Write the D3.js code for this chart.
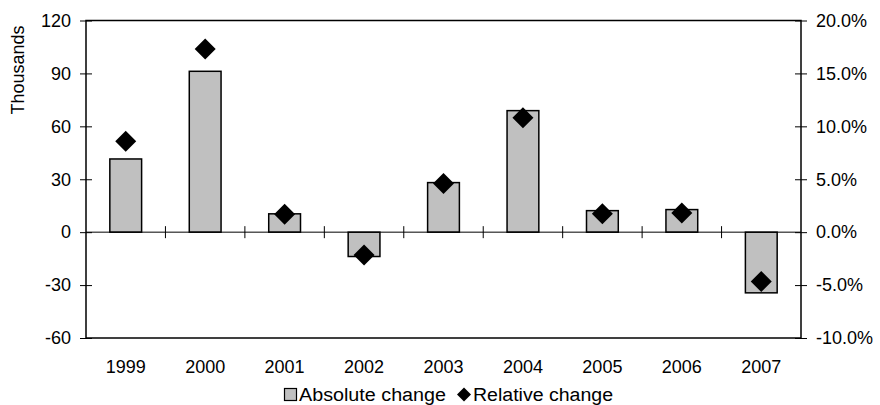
<!DOCTYPE html>
<html>
<head>
<meta charset="utf-8">
<script src="https://cdn.jsdelivr.net/npm/d3@7"></script>
<style>
  body { margin: 0; background: #fff; }
  text { font-family: "Liberation Sans", Arial, sans-serif; }
</style>
</head>
<body>
<div class="chart"></div>
<script>
const years = ["1999", "2000", "2001", "2002", "2003", "2004", "2005", "2006", "2007"];
const absolute_change = [41.5, 91.2, 10.4, -13.8, 28.1, 68.9, 12.2, 12.8, -34.4];
const relative_change = [8.6, 17.3, 1.7, -2.15, 4.6, 10.8, 1.73, 1.8, -4.67];
const left_ticks = [-60, -30, 0, 30, 60, 90, 120];
const right_ticks = [-10, -5, 0, 5, 10, 15, 20];

const width = 880;
const height = 405;
const m = { left: 86, right: 79, top: 20.5, bottom: 67 };
const fs = "18px";
const svg = d3.select(".chart").append("svg").attr("width", width).attr("height", height);

const x_scale = d3.scaleBand().domain(years).range([m.left, width - m.right]);
const y_scale = d3.scaleLinear().domain([-60, 120]).range([height - m.bottom, m.top]);
const y2_scale = d3.scaleLinear().domain([-10, 20]).range([height - m.bottom, m.top]);

// box
svg.append("rect")
    .attr("x", m.left).attr("y", m.top)
    .attr("width", width - m.left - m.right).attr("height", height - m.top - m.bottom)
    .attr("fill", "none").attr("stroke", "#000").attr("stroke-width", 1.5);

// left axis
const left_axis = svg.append("g").attr("transform", "translate(" + m.left + ",0)")
    .call(d3.axisLeft(y_scale).tickValues(left_ticks).tickSizeInner(6).tickSizeOuter(0).tickPadding(9)
        .tickFormat(d => String(d)));
left_axis.select(".domain").remove();
left_axis.selectAll(".tick line").attr("x2", 6).attr("x1", -6).attr("stroke-width", 1);
left_axis.selectAll("text").attr("font-size", fs).attr("fill", "#000");

// right axis
const right_axis = svg.append("g").attr("transform", "translate(" + (width - m.right) + ",0)")
    .call(d3.axisRight(y2_scale).tickValues(right_ticks).tickSizeInner(6).tickSizeOuter(0).tickPadding(9)
        .tickFormat(d => d.toFixed(1) + "%"));
right_axis.select(".domain").remove();
right_axis.selectAll(".tick line").attr("x1", -6).attr("x2", 6).attr("stroke-width", 1);
right_axis.selectAll("text").attr("font-size", fs).attr("fill", "#000");

// bars
svg.selectAll("rect.bar")
    .data(years)
    .join("rect")
    .attr("class", "bar")
    .attr("x", d => x_scale(d) + x_scale.bandwidth() * 0.3)
    .attr("width", x_scale.bandwidth() * 0.4)
    .attr("y", (d, i) => y_scale(Math.max(0, absolute_change[i])))
    .attr("height", (d, i) => Math.abs(y_scale(absolute_change[i]) - y_scale(0)))
    .attr("fill", "#c0c0c0")
    .attr("stroke", "#000")
    .attr("stroke-width", 1.5);

// zero line with category ticks
const zero_axis = svg.append("g").attr("transform", "translate(0," + y_scale(0) + ")");
zero_axis.append("line")
    .attr("x1", m.left).attr("x2", width - m.right)
    .attr("stroke", "#000").attr("stroke-width", 1);
zero_axis.selectAll("line.cat")
    .data(years.slice(1))
    .join("line")
    .attr("class", "cat")
    .attr("x1", d => x_scale(d)).attr("x2", d => x_scale(d))
    .attr("y1", -6).attr("y2", 6)
    .attr("stroke", "#000").attr("stroke-width", 1);

// year labels
svg.selectAll("text.year")
    .data(years)
    .join("text")
    .attr("class", "year")
    .attr("x", d => x_scale(d) + x_scale.bandwidth() / 2)
    .attr("y", 373)
    .attr("text-anchor", "middle")
    .attr("font-size", fs)
    .text(d => d);

// diamonds
const diamond = r => "M0," + (-r) + "L" + r + ",0L0," + r + "L" + (-r) + ",0Z";
svg.selectAll("path.rel")
    .data(years)
    .join("path")
    .attr("class", "rel")
    .attr("transform", (d, i) => "translate(" + (x_scale(d) + x_scale.bandwidth() / 2) + "," + y2_scale(relative_change[i]) + ")")
    .attr("d", diamond(10.5))
    .attr("fill", "#000");

// y title
svg.append("text")
    .attr("transform", "translate(24,70) rotate(-90)")
    .attr("text-anchor", "middle")
    .attr("font-size", fs)
    .text("Thousands");

// legend
const legend = svg.append("g");
legend.append("rect")
    .attr("x", 284.5).attr("y", 388.5).attr("width", 12).attr("height", 12)
    .attr("fill", "#c0c0c0").attr("stroke", "#000").attr("stroke-width", 1.2);
legend.append("text").attr("x", 299).attr("y", 401).attr("font-size", fs)
    .attr("textLength", 147).attr("lengthAdjust", "spacingAndGlyphs").text("Absolute change");
legend.append("path")
    .attr("transform", "translate(464,394.5)")
    .attr("d", diamond(7))
    .attr("fill", "#000");
legend.append("text").attr("x", 473).attr("y", 401).attr("font-size", fs)
    .attr("textLength", 140).attr("lengthAdjust", "spacingAndGlyphs").text("Relative change");
</script>
</body>
</html>
